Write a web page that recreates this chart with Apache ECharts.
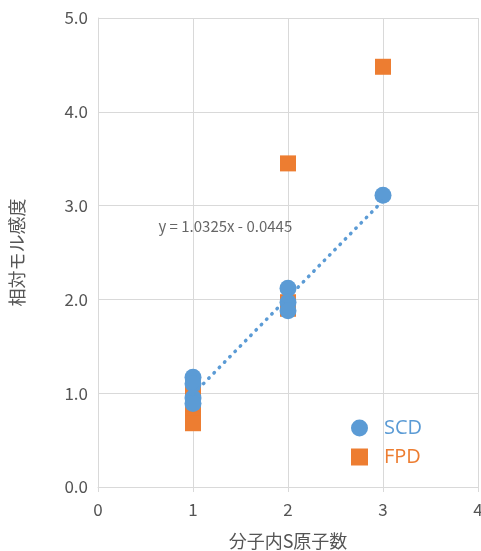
<!DOCTYPE html>
<html><head><meta charset="utf-8">
<script src="https://cdn.jsdelivr.net/npm/echarts@6/dist/echarts.min.js"></script>
<style>html,body{margin:0;padding:0;background:#fff}#c{width:481px;height:551px}</style>
</head><body><div id="c"></div>
<script>
var scdX = [1, 1, 1, 1, 2, 2, 2, 3];
var scdY = [1.17, 1.10, 0.95, 0.89, 2.12, 1.97, 1.88, 3.11];
var fpdX = [1, 1, 1, 1, 1, 1, 2, 2, 2, 3];
var fpdY = [1.07, 0.95, 0.85, 0.78, 0.72, 0.68, 1.97, 1.90, 3.45, 4.48];
var trendX = [1, 3];
var slope = 1.0325, intercept = -0.0445;
var trendText = 'y = 1.0325x - 0.0445';
var xTicks = [0, 1, 2, 3, 4];
var yTicks = [0, 1, 2, 3, 4, 5];

var BLUE = '#5B9BD5', ORANGE = '#ED7D31', GRID = '#d9d9d9', TXT = '#555555';
var FONT = '"Noto Sans CJK JP", "Noto Sans", sans-serif';
var LATIN = '"Open Sans", "Noto Sans CJK JP", sans-serif';
function zip(a, b) { return a.map(function (v, i) { return [v, b[i]]; }); }

var chart = echarts.init(document.getElementById('c'), null, {renderer: 'canvas'});
chart.setOption({
  animation: false,
  backgroundColor: '#fff',
  textStyle: {fontFamily: FONT},
  grid: {left: 98, right: 3, top: 18, bottom: 64, containLabel: false, outerBoundsMode: 'none'},
  legend: {
    orient: 'vertical', left: 346, top: 413, itemWidth: 17, itemHeight: 17, itemGap: 9,
    data: [
      {name: 'SCD', icon: 'circle', textStyle: {color: BLUE, fontSize: 20, fontFamily: LATIN}},
      {name: 'FPD', icon: 'rect', textStyle: {color: ORANGE, fontSize: 20, fontFamily: LATIN}}
    ],
    textStyle: {fontSize: 20, fontFamily: LATIN, padding: [0, 0, 0, 11]}
  },
  xAxis: {
    type: 'value', min: xTicks[0], max: xTicks[xTicks.length - 1], interval: 1,
    name: '分子内S原子数', nameLocation: 'middle', nameGap: 45,
    nameTextStyle: {fontSize: 18, color: TXT, fontFamily: FONT},
    axisLine: {show: true, lineStyle: {color: GRID, width: 1}},
    axisTick: {show: true, length: 5, lineStyle: {color: GRID}},
    axisLabel: {fontSize: 17, color: TXT, margin: 14, fontFamily: FONT},
    splitLine: {show: true, lineStyle: {color: GRID}}
  },
  yAxis: {
    type: 'value', min: yTicks[0], max: yTicks[yTicks.length - 1], interval: 1,
    name: '相対モル感度', nameLocation: 'middle', nameGap: 72, nameRotate: 90,
    nameTextStyle: {fontSize: 18, color: TXT, fontFamily: FONT},
    axisLine: {show: true, lineStyle: {color: GRID, width: 1}},
    axisTick: {show: false},
    axisLabel: {fontSize: 17, color: TXT, margin: 10, fontFamily: FONT,
      formatter: function (v) { return v.toFixed(1); }},
    splitLine: {show: true, lineStyle: {color: GRID}}
  },
  series: [
    {name: 'FPD', type: 'scatter', symbol: 'rect', symbolSize: 16, z: 2,
     itemStyle: {color: ORANGE, opacity: 1}, data: zip(fpdX, fpdY)},
    {name: 'SCD', type: 'scatter', symbol: 'circle', symbolSize: 17, z: 3,
     itemStyle: {color: BLUE, opacity: 1}, data: zip(scdX, scdY)},
    {name: 'trend', type: 'line', symbol: 'none', z: 4, silent: true,
     lineStyle: {color: BLUE, width: 3.5, type: [0.5, 7], cap: 'round'},
     data: trendX.map(function (x) { return [x, slope * x + intercept]; })},
    {name: 'trendLabel', type: 'scatter', symbolSize: 0, z: 5, silent: true,
     label: {show: true, position: 'inside', formatter: trendText, fontSize: 15, color: '#404040', fontFamily: FONT},
     data: [[1.34, 2.78]]}
  ]
});
</script></body></html>
